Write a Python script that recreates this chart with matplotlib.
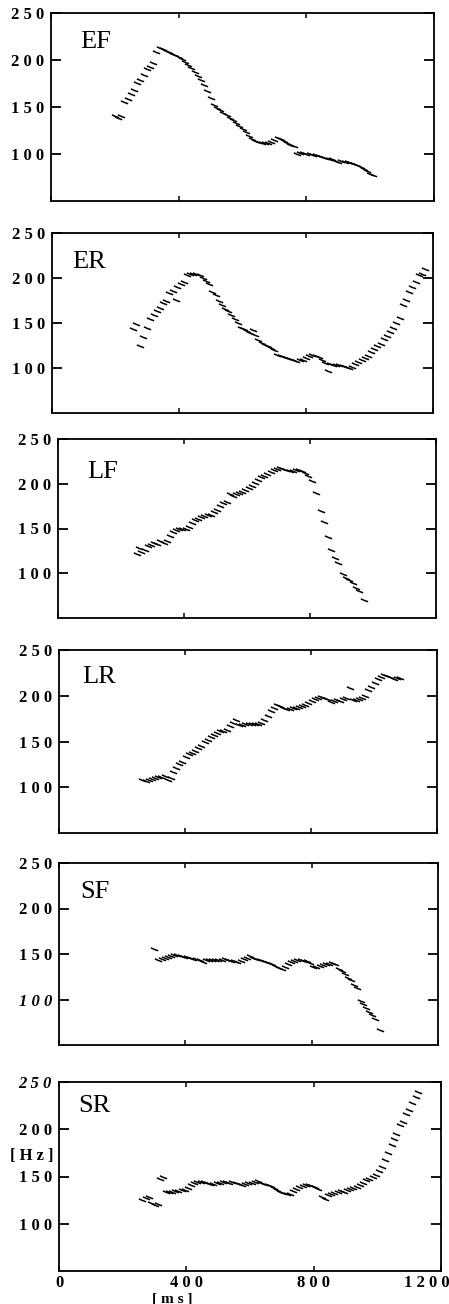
import matplotlib
matplotlib.use("Agg")
import matplotlib.pyplot as plt
from matplotlib.path import Path
from matplotlib.transforms import ScaledTranslation

# ---------------- data (ms, Hz) ----------------
ef_ms = [200, 210, 220, 230, 240, 250, 260, 270, 280, 290, 300, 310, 320, 330, 340, 350, 360,
         370, 380, 390, 400, 410, 420, 430, 440, 450, 460, 470, 480, 490, 500, 510, 520, 530,
         540, 550, 560, 570, 580, 590, 600, 610, 620, 630, 640, 650, 660, 670, 680, 690, 700,
         710, 720, 730, 740, 750, 760, 770, 780, 790, 800, 810, 820, 830, 840, 850, 860, 870,
         880, 890, 900, 910, 920, 930, 940, 950, 960, 970, 980, 990, 1000, 1010]
ef_hz = [140, 138, 140, 155, 158, 164, 168, 176, 179, 184, 190, 193, 197, 208, 213, 212, 210,
         208, 206, 205, 203, 201, 198, 195, 191, 187, 183, 179, 173, 167, 160, 152, 149, 147,
         144, 141, 138, 136, 133, 130, 127, 123, 119, 116, 114, 113, 112, 112, 112, 113, 115,
         117, 116, 114, 112, 110, 108, 100, 101, 101, 100, 100, 99, 99, 98, 97, 96, 95,
         95, 93, 92, 93, 92, 91, 90, 89, 88, 86, 84, 82, 79, 78]

er_ms = [255, 265, 278, 288, 300, 310, 320, 330, 340, 350, 360, 370, 380, 390, 395, 405, 415,
         425, 435, 445, 455, 465, 475, 485, 495, 505, 515, 525, 535, 545, 555, 565, 575, 585,
         595, 605, 615, 625, 633, 640, 650, 660, 670, 680, 690, 700, 710, 720, 730, 740, 750,
         760, 770, 780, 790, 800, 810, 820, 830, 840, 850, 860, 868, 875, 885, 895, 905, 915,
         925, 935, 945, 955, 965, 975, 985, 995, 1005, 1015, 1025, 1035, 1045, 1055, 1065,
         1075, 1085, 1095, 1105, 1115, 1125, 1135, 1145, 1155, 1165, 1175]
er_hz = [143, 149, 124, 134, 145, 155, 159, 163, 167, 172, 175, 183, 186, 176, 190, 193, 196,
         203, 205, 205, 204, 203, 200, 197, 193, 185, 181, 174, 170, 166, 163, 159, 155, 150,
         145, 143, 141, 139, 142, 137, 131, 128, 126, 124, 122, 120, 115, 113, 112, 111, 110,
         109, 108, 109, 109, 111, 113, 114, 113, 112, 109, 106, 97, 104, 103, 103, 103, 102,
         101, 100, 101, 105, 107, 109, 111, 113, 118, 121, 124, 127, 132, 136, 140,
         145, 150, 156, 170, 176, 184, 190, 196, 203, 205, 210]

lf_ms = [250, 258, 265, 275, 285, 295, 305, 315, 325, 335, 345, 355, 365, 375, 385, 395, 405,
         415, 425, 435, 445, 455, 465, 475, 485, 495, 505, 515, 525, 535, 545, 555, 565, 575,
         585, 595, 605, 615, 625, 635, 645, 655, 665, 675, 685, 695, 705, 715, 725, 735, 745,
         755, 765, 775, 785, 795, 805, 820, 835, 845, 857, 868, 880, 890, 905, 915, 925, 935,
         945, 955, 970]
lf_hz = [121, 128, 124, 126, 130, 132, 134, 133, 136, 134, 136, 142, 146, 148, 149, 150, 150,
         152, 156, 159, 161, 163, 164, 165, 165, 168, 171, 175, 178, 180, 189, 186, 188, 190,
         191, 193, 195, 198, 201, 204, 207, 209, 211, 213, 215, 217, 218, 217, 215, 214, 214,
         215, 215, 214, 212, 209, 203, 190, 170, 157, 140, 126, 117, 112, 99, 95, 92, 89,
         84, 80, 70]

lr_ms = [265, 275, 285, 295, 305, 315, 325, 335, 345, 355, 362, 372, 382, 392, 402, 412, 422,
         432, 442, 452, 462, 472, 482, 492, 502, 512, 522, 532, 542, 552, 562, 572, 582, 592,
         602, 612, 622, 632, 642, 652, 662, 672, 682, 692, 702, 712, 722, 732, 742, 752, 762,
         772, 782, 792, 802, 812, 822, 832, 842, 852, 862, 872, 882, 892, 902, 912, 925, 932,
         942, 952, 962, 972, 982, 992, 1002, 1012, 1022, 1032, 1042, 1052, 1062, 1072, 1082]
lr_hz = [108, 107, 108, 109, 110, 111, 111, 112, 108, 110, 117, 121, 125, 128, 133, 136, 137,
         140, 143, 145, 149, 152, 155, 157, 159, 161, 162, 163, 167, 170, 173, 168, 168, 169,
         169, 169, 169, 169, 170, 173, 178, 183, 187, 190, 189, 187, 186, 186, 187, 187, 188,
         189, 190, 192, 194, 196, 198, 199, 198, 196, 193, 194, 195, 194, 196, 197, 208, 195,
         195, 196, 197, 200, 206, 210, 214, 218, 221, 223, 222, 220, 218, 219, 219]

sf_ms = [300, 315, 325, 335, 345, 355, 365, 375, 385, 395, 405, 415, 425, 435, 445, 455, 465,
         475, 485, 495, 505, 515, 525, 535, 545, 555, 565, 575, 585, 595, 605, 615, 625, 635,
         645, 655, 665, 675, 685, 695, 705, 715, 725, 735, 745, 755, 765, 775, 785, 795, 805,
         815, 825, 835, 845, 855, 865, 875, 885, 895, 905, 915, 925, 935, 945, 955, 962, 972,
         980, 990, 1000, 1015]
sf_hz = [156, 143, 144, 146, 147, 148, 149, 149, 148, 147, 147, 146, 145, 144, 143, 141, 143,
         143, 143, 143, 143, 143, 144, 143, 142, 142, 141, 142, 144, 146, 148, 146, 144, 143,
         142, 141, 140, 139, 137, 135, 134, 136, 139, 141, 142, 143, 143, 142, 142, 140, 136,
         136, 137, 138, 139, 139, 140, 139, 133, 131, 128, 124, 121, 116, 113, 98, 95, 91,
         86, 83, 79, 67]

sr_ms = [262, 272, 282, 290, 300, 310, 318, 326, 335, 345, 355, 365, 375, 385, 395, 405, 415,
         425, 435, 445, 455, 465, 475, 485, 495, 505, 515, 525, 535, 545, 555, 565, 575, 585,
         595, 605, 615, 625, 635, 645, 655, 665, 675, 685, 695, 705, 715, 725, 735, 745, 755,
         765, 775, 785, 795, 805, 815, 825, 835, 845, 855, 865, 875, 885, 895, 905, 915, 925,
         935, 945, 955, 965, 975, 985, 995, 1005, 1015, 1025, 1035, 1045, 1052, 1060, 1070,
         1080, 1090, 1100, 1110, 1120, 1128]
sr_hz = [125, 127, 128, 122, 120, 121, 147, 150, 134, 134, 134, 135, 135, 136, 136, 138, 141,
         143, 144, 144, 144, 143, 142, 142, 143, 143, 144, 144, 143, 144, 143, 142, 141, 142,
         143, 143, 144, 145, 143, 142, 141, 140, 138, 136, 134, 133, 131, 132, 135, 137, 139,
         140, 141, 141, 140, 139, 137, 128, 126, 130, 131, 133, 134, 135, 134, 136, 137, 138,
         139, 141, 143, 146, 147, 150, 152, 156, 160, 167, 175, 183, 190, 195, 205,
         208, 216, 220, 228, 234, 239]

panel_names = ["EF", "ER", "LF", "LR", "SF", "SR"]
panel_ms = [ef_ms, er_ms, lf_ms, lr_ms, sf_ms, sr_ms]
panel_hz = [ef_hz, er_hz, lf_hz, lr_hz, sf_hz, sr_hz]

y_ticks = [100, 150, 200, 250]
y_ticklabels = ["1 0 0", "1 5 0", "2 0 0", "2 5 0"]
x_ticks = [0, 400, 800, 1200]
x_ticklabels = ["0", "4 0 0", "8 0 0", "1 2 0 0"]

# ---------------- layout (pixels in a 449 x 1304 canvas) ----------------
W, H = 449, 1304
# left, right, top, bottom of each panel frame
boxes = [(51, 434, 13, 201), (52, 433, 233, 413), (58, 436, 439, 618),
         (59, 437, 650, 833), (59, 438, 863, 1045), (59, 441, 1082, 1271)]
# name label offset from panel top-left (px right, px down to baseline)
name_off = [(29, 35), (20, 35), (29, 39), (23, 33), (21, 35), (19, 30)]

serif = ["Liberation Serif", "DejaVu Serif"]
plt.rcParams["font.family"] = serif

fig = plt.figure(figsize=(W / 100, H / 100), dpi=100)

# pitch mark: short slanted stroke
mark = Path([(-1.0, 0.45), (0.0, 0.0), (1.0, -0.35)],
            [Path.MOVETO, Path.LINETO, Path.LINETO])

TICK_FS = 12
for i, (name, ms, hz) in enumerate(zip(panel_names, panel_ms, panel_hz)):
    l, r, t, b = boxes[i]
    ax = fig.add_axes([l / W, 1 - b / H, (r - l) / W, (b - t) / H])
    ax.plot(ms, hz, linestyle="none", marker=mark, markersize=5.2,
            markerfacecolor="none", markeredgecolor="black", markeredgewidth=1.1)
    ax.set_xlim(0, 1200)
    ax.set_ylim(50, 250)
    for s in ax.spines.values():
        s.set_linewidth(1.3)
        s.set_color("black")
    ax.set_yticks(y_ticks)
    ax.set_yticklabels(list(y_ticklabels), fontweight="bold", fontsize=TICK_FS)
    if name == "SF":
        ax.get_yticklabels()[0].set_fontstyle("italic")
    if name == "SR":
        ax.get_yticklabels()[3].set_fontstyle("italic")
    ax.tick_params(axis="y", direction="in", left=True, right=True, length=7.5,
                   width=1.3, pad=5)
    ax.set_xticks(x_ticks)
    ax.tick_params(axis="x", direction="in", top=True, bottom=True, length=3.5,
                   width=1.1, pad=3)
    if i == len(panel_names) - 1:
        ax.set_xticklabels(x_ticklabels, fontweight="bold", fontsize=TICK_FS)
        last = ax.get_xticklabels()[-1]
        last.set_horizontalalignment("right")
        last.set_transform(last.get_transform() +
                           ScaledTranslation(6 / 72, 0, fig.dpi_scale_trans))
        ax.annotate("[ H z ]", xy=(0, 172), xycoords=("axes fraction", "data"),
                    xytext=(-4, 0), textcoords="offset points", ha="right",
                    va="center", fontweight="bold", fontsize=TICK_FS)
        ax.annotate("[ m s ]", xy=(355, 0), xycoords=("data", "axes fraction"),
                    xytext=(0, -20.5), textcoords="offset points", ha="center",
                    va="center", fontweight="bold", fontsize=11)
    else:
        ax.set_xticklabels([])
    dx, dy = name_off[i]
    ax.annotate(name, xy=(0, 1), xycoords="axes fraction",
                xytext=(dx * 0.72, -dy * 0.72), textcoords="offset points",
                ha="left", va="baseline", fontsize=19)

fig.savefig("out.png", dpi=100)
